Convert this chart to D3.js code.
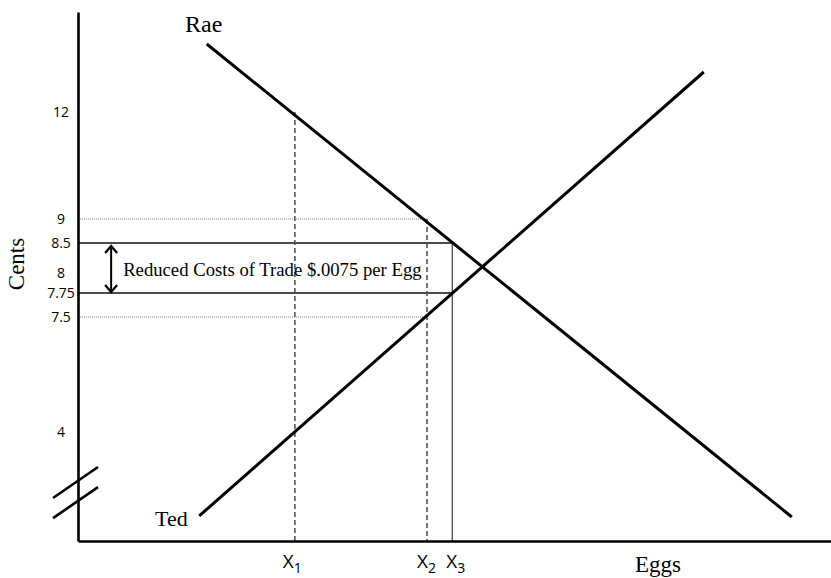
<!DOCTYPE html>
<html>
<head>
<meta charset="utf-8">
<script src="https://cdn.jsdelivr.net/npm/d3@7"></script>
<style>
  body { margin: 0; background: #fff; }
  .serif { font-family: "Liberation Serif", "Times New Roman", serif; fill: #000; }
  .sans { font-family: "Open Sans", "Liberation Sans", sans-serif; fill: #000; }
</style>
</head>
<body>
<div id="chart"></div>
<script>
// price labels shown on the Cents axis
const priceTicks = [12, 9, 8.5, 8, 7.75, 7.5, 4];
// quantities on the Eggs axis
const qtyNames = ["1", "2", "3"];
const qtyValues = [28.8, 46.35, 49.7];
// demand (Rae) and supply (Ted) line end points: [eggs, cents]
const raeLine = [[17.1, 13.7], [94.8, 0.88]];
const tedLine = [[16.1, 0.92], [83.1, 13.0]];
// guide lines: price level -> quantity it reaches
const priceGuides = [
  { p: 9, q: qtyValues[1], kind: "dot" },
  { p: 8.5, q: qtyValues[2], kind: "solid" },
  { p: 7.75, q: qtyValues[2], kind: "solid" },
  { p: 7.5, q: qtyValues[1], kind: "dot" }
];
const qtyGuides = [
  { q: qtyValues[0], p: 12, kind: "dash" },
  { q: qtyValues[1], p: 9, kind: "dash" },
  { q: qtyValues[2], p: 8.5, kind: "thin" }
];
const annotation = "Reduced Costs of Trade $.0075 per Egg";

const width = 831, height = 578;

const svg = d3.select("#chart")
  .append("svg")
  .attr("width", width)
  .attr("height", height);

const x = d3.scaleLinear().domain([0, 100]).range([78, 831]);
// schematic price axis, not evenly spaced in the original drawing
const y = d3.scaleLinear()
  .domain([0, 4, 7.5, 7.75, 8, 8.5, 9, 12, 14.5])
  .range([541, 432, 317, 293, 273, 243, 219, 112, 12]);

const styles = {
  dot: { stroke: "#888", width: 1, dash: "1,1" },
  solid: { stroke: "#111", width: 1.3, dash: null },
  dash: { stroke: "#555", width: 1.6, dash: "5,3" },
  thin: { stroke: "#111", width: 1, dash: null }
};

// horizontal guides
svg.selectAll(".pguide")
  .data(priceGuides)
  .enter()
  .append("line")
  .attr("class", "pguide")
  .attr("x1", x(0))
  .attr("x2", d => x(d.q))
  .attr("y1", d => y(d.p))
  .attr("y2", d => y(d.p))
  .attr("stroke", d => styles[d.kind].stroke)
  .attr("stroke-width", d => styles[d.kind].width)
  .attr("stroke-dasharray", d => styles[d.kind].dash);

// vertical guides
svg.selectAll(".qguide")
  .data(qtyGuides)
  .enter()
  .append("line")
  .attr("class", "qguide")
  .attr("x1", d => x(d.q))
  .attr("x2", d => x(d.q))
  .attr("y1", d => y(d.p))
  .attr("y2", y(0))
  .attr("stroke", d => styles[d.kind].stroke)
  .attr("stroke-width", d => styles[d.kind].width)
  .attr("stroke-dasharray", d => styles[d.kind].dash);

// Rae and Ted
const line = d3.line().x(d => x(d[0])).y(d => y(d[1]));
svg.selectAll(".curve")
  .data([raeLine, tedLine])
  .enter()
  .append("path")
  .attr("class", "curve")
  .attr("d", line)
  .attr("fill", "none")
  .attr("stroke", "#000")
  .attr("stroke-width", 3);

// axes
const yAxis = svg.append("g")
  .attr("transform", `translate(${x(0)},0)`)
  .call(d3.axisLeft(y).tickValues(priceTicks).tickSize(0).tickSizeOuter(0)
    .tickFormat(d => String(d)));
yAxis.select(".domain").attr("stroke", "#000").attr("stroke-width", 2.6);
yAxis.selectAll("text")
  .attr("class", "sans")
  .attr("x", -17)
  .attr("dy", "0.35em")
  .attr("text-anchor", "middle")
  .style("font-size", "14px");

const xAxis = svg.append("g")
  .attr("transform", `translate(0,${y(0)})`)
  .call(d3.axisBottom(x).tickValues(qtyValues).tickSize(0).tickSizeOuter(0)
    .tickFormat(() => ""));
xAxis.select(".domain").attr("stroke", "#000").attr("stroke-width", 2.6);
xAxis.selectAll(".tick text").remove();
xAxis.selectAll(".tick")
  .append("text")
  .attr("class", "sans")
  .attr("y", 27)
  .attr("x", (d, i) => [-3, -1, 3][i])
  .attr("text-anchor", "middle")
  .style("font-size", "19px")
  .each(function (d, i) {
    const t = d3.select(this);
    t.append("tspan").text("X");
    t.append("tspan").attr("dy", 5).style("font-size", "14px").text(qtyNames[i]);
  });

// axis break marks
svg.selectAll(".brk")
  .data([2.24, 1.5])
  .enter()
  .append("line")
  .attr("class", "brk")
  .attr("x1", x(0) - 25)
  .attr("y1", d => y(d) + 18)
  .attr("x2", x(0) + 20)
  .attr("y2", d => y(d) - 13)
  .attr("stroke", "#000")
  .attr("stroke-width", 2.6);

// double arrow for the reduced trade cost
const ax = x(4.4);
const arrowTop = y(8.5) + 3, arrowBot = y(7.75) - 1;
svg.append("line")
  .attr("x1", ax).attr("x2", ax)
  .attr("y1", arrowTop).attr("y2", arrowBot)
  .attr("stroke", "#000").attr("stroke-width", 2);
svg.append("path")
  .attr("d", `M${ax - 6},${arrowTop + 7}L${ax},${arrowTop}L${ax + 6},${arrowTop + 7}M${ax - 6},${arrowBot - 7}L${ax},${arrowBot}L${ax + 6},${arrowBot - 7}`)
  .attr("fill", "none")
  .attr("stroke", "#000")
  .attr("stroke-width", 2.2);

svg.append("text")
  .attr("class", "serif")
  .attr("x", ax + 12)
  .attr("y", 276)
  .style("font-size", "18.7px")
  .text(annotation);

// labels
svg.append("text").attr("class", "serif")
  .attr("x", 185).attr("y", 32).style("font-size", "24px").text("Rae");
svg.append("text").attr("class", "serif")
  .attr("x", 155).attr("y", 526).style("font-size", "22px").text("Ted");
svg.append("text").attr("class", "serif")
  .attr("x", 635).attr("y", 572).style("font-size", "23px").text("Eggs");
svg.append("text").attr("class", "serif")
  .attr("transform", "translate(24,264) rotate(-90)")
  .attr("text-anchor", "middle")
  .style("font-size", "23px")
  .text("Cents");
</script>
</body>
</html>
